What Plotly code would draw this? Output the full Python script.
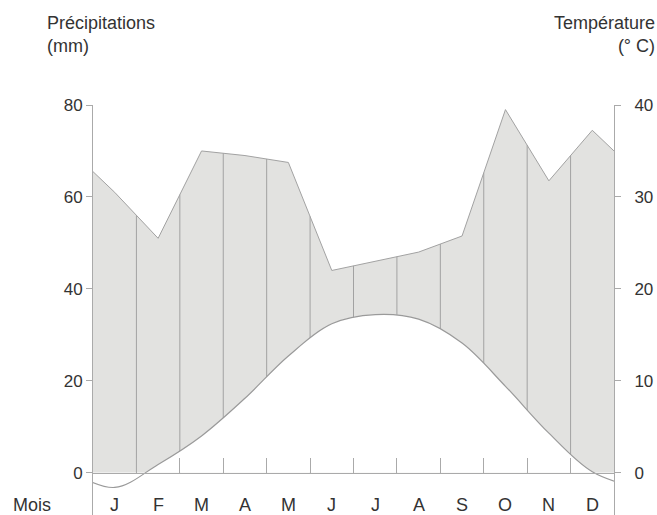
import numpy as np
import plotly.graph_objects as go

# Monthly climate normals
mois = ["J", "F", "M", "A", "M", "J", "J", "A", "S", "O", "N", "D"]
precipitations = [61, 51, 70, 69, 67.5, 44, 46, 48, 51.5, 79, 63.5, 74.5]   # mm
temperatures = [-1.6, 0.9, 4.0, 8.1, 12.7, 16.2, 17.2, 16.7, 14.1, 9.4, 4.3, 0.1]  # °C
# Precipitation curve values at the start (1 Jan) and end (31 Dec) of the year
precip_bords = [65.5, 70]

p_ticks = [0, 20, 40, 60, 80]
t_ticks = [0, 10, 20, 30, 40]

# Axis ranges: P = 2T so both scales share the same zero
P_RANGE = [-9.2, 80]
T_RANGE = [P_RANGE[0] / 2, P_RANGE[1] / 2]

FILL = "#e2e2e0"
LINE = "#a2a2a2"
TLINE = "#9a9a9a"
AXIS = "#aaaaaa"
TEXT = "#333333"
FONT = "Liberation Sans, Arial, sans-serif"

W, H = 657, 515
ML, MR, MT, MB = 93, 43, 105, 0
PW, PH = W - ML - MR, H - MT - MB

n = len(mois)
x_mid = np.arange(1, n + 1)

# Precipitation: monthly values at mid-month, closed by the year-edge values
xp = np.concatenate(([0.5], x_mid, [n + 0.5]))
pp = [precip_bords[0]] + precipitations + [precip_bords[1]]

# Temperature is cyclic: December before January, January after December
xt = np.concatenate(([0], x_mid, [n + 1]))
tt = [temperatures[-1]] + temperatures + [temperatures[0]]

# Month separators inside the shaded area
bounds = np.arange(1.5, n, 1.0)
p_bounds = np.interp(bounds, xp, pp)
sep_x, sep_y = [], []
for b, pb in zip(bounds, p_bounds):
    sep_x += [b, b, None]
    sep_y += [0, pb, None]

fig = go.Figure()

# Precipitation area down to zero
fig.add_trace(go.Scatter(
    x=xp, y=pp, mode="lines", line=dict(color=LINE, width=1),
    fill="tozeroy", fillcolor=FILL, hoverinfo="skip", showlegend=False))

# Vertical month separators
fig.add_trace(go.Scatter(
    x=sep_x, y=sep_y, mode="lines", line=dict(color=LINE, width=1),
    hoverinfo="skip", showlegend=False))

# Temperature curve; the area beneath it is left blank
fig.add_trace(go.Scatter(
    x=xt, y=tt, yaxis="y2", mode="lines",
    line=dict(color=TLINE, width=1.2, shape="spline"),
    fill="tozeroy", fillcolor="white", hoverinfo="skip", showlegend=False))

zero_pos = -P_RANGE[0] / (P_RANGE[1] - P_RANGE[0])

fig.update_layout(
    width=W, height=H,
    margin=dict(l=ML, r=MR, t=MT, b=MB),
    paper_bgcolor="white", plot_bgcolor="white",
    font=dict(family=FONT, color=TEXT, size=17),
    xaxis=dict(
        range=[0.5, n + 0.5], anchor="free", position=zero_pos,
        showline=True, linecolor=AXIS, linewidth=1,
        tickvals=list(np.arange(0.5, n + 1, 1.0)), ticks="inside",
        ticklen=15, tickcolor=AXIS, showticklabels=False,
        showgrid=False, zeroline=False),
    yaxis=dict(
        range=P_RANGE, tickvals=p_ticks, ticks="outside", ticklen=6,
        tickcolor=AXIS, showline=True, linecolor=AXIS, linewidth=1,
        showgrid=False, zeroline=False, tickfont=dict(size=17)),
    yaxis2=dict(
        range=T_RANGE, tickvals=t_ticks, overlaying="y", side="right",
        ticks="outside", ticklen=6, tickcolor=AXIS, showline=True,
        linecolor=AXIS, linewidth=1, showgrid=False, zeroline=False,
        tickfont=dict(size=17), ticklabelstandoff=10),
)

def px_x(px):
    return (px - ML) / PW

def px_y(py):
    return (H - MB - py) / PH

annotations = [
    dict(text="Précipitations<br>(mm)", xref="paper", yref="paper",
         x=px_x(45), y=px_y(11), xanchor="left", yanchor="top", align="left",
         showarrow=False, font=dict(size=18)),
    dict(text="Température<br>(° C)", xref="paper", yref="paper",
         x=px_x(657), y=px_y(11), xanchor="right", yanchor="top", align="right",
         showarrow=False, font=dict(size=18)),
    dict(text="Mois", xref="paper", yref="y", x=px_x(11), y=-7,
         xanchor="left", yanchor="middle", showarrow=False, font=dict(size=18)),
]
for i, m in enumerate(mois):
    annotations.append(dict(text=m, xref="x", yref="y", x=x_mid[i], y=-7,
                            xanchor="center", yanchor="middle", showarrow=False,
                            font=dict(size=18)))
fig.update_layout(annotations=annotations)

fig.write_html("out.html")
